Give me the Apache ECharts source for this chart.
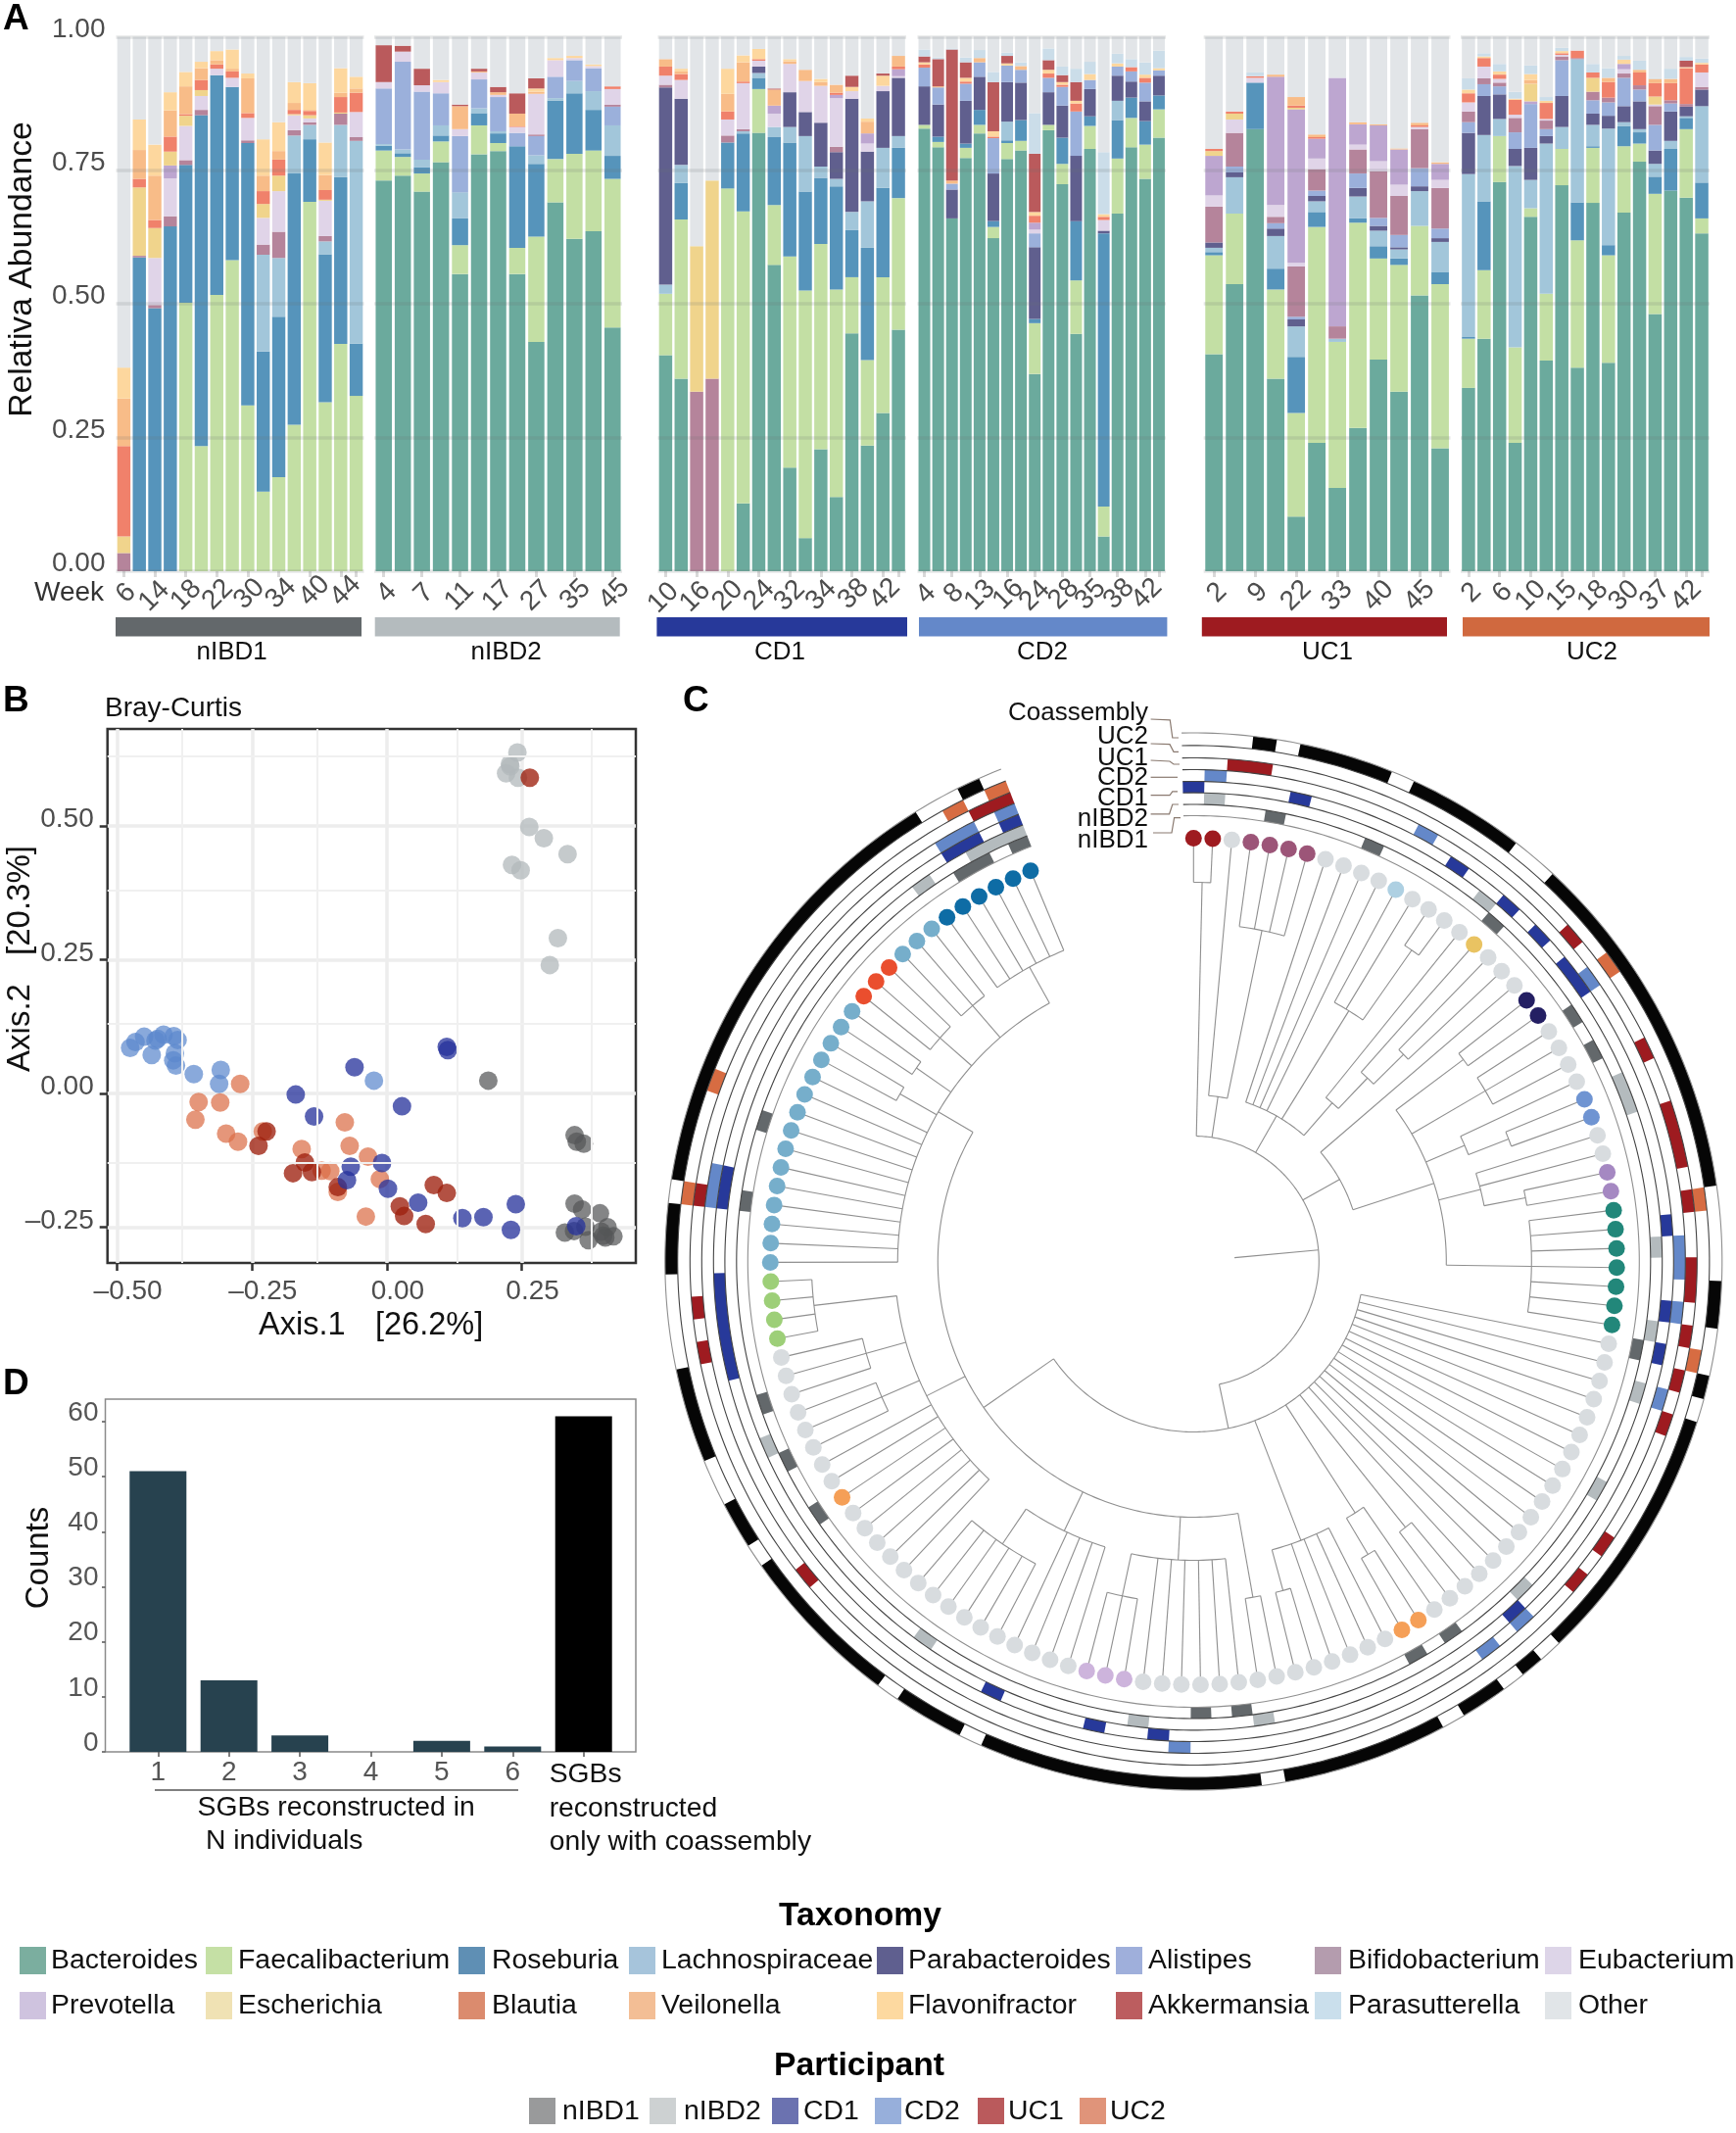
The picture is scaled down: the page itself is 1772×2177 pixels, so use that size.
<!DOCTYPE html>
<html><head><meta charset="utf-8">
<style>html,body{margin:0;padding:0;background:#fff}#c{width:1772px;height:2177px}</style>
<script src="https://cdn.jsdelivr.net/npm/echarts@6/dist/echarts.min.js"></script>
</head><body><div id="c"></div>
<script>
const FONT = "'Liberation Sans', Arial, sans-serif";
// ---------- Panel A: taxa (stack order) ----------
const taxaKeys = ['Ba','Fa','Ro','La','Pa','Al','Bi','Eu','Pr','Es','Bl','Ve','Fl','Ak','Ps','Ot'];
const taxaNames = ['Bacteroides','Faecalibacterium','Roseburia','Lachnospiraceae','Parabacteroides','Alistipes','Bifidobacterium','Eubacterium','Prevotella','Escherichia','Blautia','Veilonella','Flavonifractor','Akkermansia','Parasutterella','Other'];
const barColors = ['#6BAA9D','#C3DFA4','#5694BB','#A2C6DA','#605F8E','#9BB0DB','#B5849B','#E0D4E8','#BDA6D0','#F0D48C','#F0816B','#F8BC88','#FDD79E','#BA5A5C','#CBDDE9','#E2E5E8'];
const swatchColors = ['#7BAE9F','#C5E0A5','#5F8FB4','#A6C4DB','#5F5F8F','#9FAFDB','#B49CAE','#DDD5E8','#CFC3DF','#F0E2B4','#DB8B6E','#F3BE95','#FDD9A0','#BC5D5F','#CADFEC','#E1E5E8'];
// cumulative top of each taxon in each sample; what is left up to 1 is Other
const nIBD1 = [
{Bi:.034,Es:.065,Bl:.234,Ve:.323,Fl:.381},
{Ro:.587,Bi:.59,Es:.718,Bl:.734,Ve:.788,Fl:.845},
{Ro:.492,Bi:.498,Eu:.586,Es:.642,Bl:.657,Ve:.74,Fl:.798},
{Ro:.645,Bi:.664,Eu:.735,Pr:.759,Es:.785,Bl:.813,Ve:.862,Fl:.896},
{Fa:.502,Ro:.76,Bi:.769,Eu:.833,Es:.852,Bl:.855,Ve:.907,Fl:.934},
{Fa:.234,Ro:.853,Bi:.863,Eu:.889,Es:.9,Bl:.919,Ve:.941,Fl:.953},
{Fa:.517,Ro:.928,Eu:.94,Bl:.948,Ve:.956,Fl:.973},
{Fa:.582,Ro:.906,Eu:.923,Bl:.935,Ve:.94,Fl:.976},
{Fa:.31,Ro:.801,Bi:.806,Eu:.848,Bl:.857,Ve:.922,Fl:.931},
{Fa:.149,Ro:.411,La:.592,Bi:.611,Eu:.661,Es:.687,Bl:.711,Ve:.74,Fl:.808},
{Fa:.176,Ro:.476,La:.586,Bi:.635,Eu:.711,Es:.74,Bl:.77,Ve:.786,Fl:.84},
{Fa:.274,Ro:.744,La:.815,Bi:.825,Eu:.853,Es:.855,Bl:.863,Ve:.876,Fl:.915},
{Fa:.691,Ro:.808,La:.835,Bi:.84,Eu:.847,Es:.853,Bl:.861,Ve:.863,Fl:.913},
{Fa:.316,Ro:.593,La:.617,Bi:.627,Eu:.693,Es:.695,Bl:.713,Ve:.741,Fl:.802},
{Fa:.425,Ro:.737,La:.835,Bi:.856,Es:.858,Bl:.887,Ve:.895,Fl:.941},
{Fa:.328,Ro:.426,La:.805,Bi:.812,Eu:.859,Bl:.895,Ve:.903,Fl:.925}];
const nIBD2 = [
{Ba:.731,Fa:.787,Ro:.796,La:.799,Al:.903,Eu:.915,Ak:.984},
{Ba:.74,Fa:.775,Ro:.782,La:.789,Al:.953,Eu:.972,Ak:.983},
{Ba:.71,Fa:.744,Ro:.756,La:.77,Al:.897,Eu:.909,Ak:.94},
{Ba:.765,Fa:.804,Ro:.815,La:.834,Al:.894,Eu:.915,Fl:.919},
{Ba:.556,Fa:.61,Ro:.66,La:.709,Al:.814,Eu:.827,Ve:.87,Ak:.873},
{Ba:.78,Fa:.834,Ro:.857,La:.866,Al:.92,Eu:.933,Ve:.935,Ak:.94},
{Ba:.786,Fa:.801,Ro:.819,La:.823,Al:.887,Eu:.891,Ve:.896,Ak:.906},
{Ba:.556,Fa:.605,Ro:.795,Al:.82,Eu:.831,Bl:.832,Ve:.856,Ak:.894},
{Ba:.429,Fa:.626,Ro:.762,La:.778,Al:.814,Bi:.817,Eu:.893,Ve:.897,Fl:.903,Ak:.922},
{Ba:.69,Fa:.771,Ro:.88,La:.885,Al:.925,Eu:.956,Fl:.96},
{Ba:.622,Fa:.781,Ro:.894,La:.917,Al:.956,Eu:.96,Fl:.964},
{Ba:.636,Fa:.787,Ro:.863,La:.898,Al:.941,Eu:.945,Fl:.948},
{Ba:.456,Fa:.734,Ro:.777,La:.834,Al:.869,Bi:.873,Eu:.902,Bl:.907}];
const CD1 = [
{Ba:.404,Fa:.519,La:.536,Pa:.905,Bi:.91,Eu:.927,Bl:.944,Ve:.958},
{Ba:.36,Fa:.658,Ro:.726,La:.76,Pa:.884,Eu:.919,Bl:.93,Ve:.935,Fl:.94},
{Bi:.336,Es:.608},
{Bi:.36,Es:.731},
{Fa:.716,Ro:.802,Bi:.815,Eu:.845,Bl:.86,Ve:.893,Fl:.94},
{Ba:.127,Fa:.673,Ro:.819,La:.823,Bi:.827,Eu:.913,Bl:.916,Ve:.952,Fl:.965},
{Ba:.82,Fa:.902,Ro:.923,La:.932,Pa:.944,Eu:.955,Bl:.958,Fl:.977},
{Ba:.573,Fa:.685,Ro:.812,La:.831,Eu:.856,Pr:.871,Ve:.901,Ak:.903},
{Ba:.194,Fa:.589,Ro:.802,La:.831,Pa:.896,Eu:.949,Ve:.954,Fl:.958},
{Ba:.062,Fa:.525,Ro:.71,La:.814,Pa:.859,Eu:.917,Ve:.938},
{Ba:.228,Fa:.612,Ro:.736,La:.757,Pa:.839,Eu:.908,Ve:.915,Fl:.921},
{Ba:.139,Fa:.527,Ro:.72,La:.734,Pa:.784,Bi:.794,Eu:.885,Pr:.891,Bl:.895,Ve:.91},
{Ba:.445,Fa:.55,Ro:.638,La:.672,Pa:.884,Eu:.898,Fl:.906,Ak:.927},
{Ba:.235,Fa:.395,Ro:.605,La:.692,Pa:.785,Eu:.8,Pr:.819,Ve:.841,Fl:.847},
{Ba:.296,Fa:.55,Ro:.717,La:.792,Pa:.898,Eu:.908,Fl:.927,Ak:.931},
{Ba:.452,Fa:.698,Ro:.792,La:.814,Pa:.923,Eu:.926,Pr:.939,Bl:.944,Ve:.964}];
const CD2 = [
{Ba:.828,Fa:.835,Pa:.907,Al:.942,Bl:.948,Fl:.952,Ak:.963,Ps:.976},
{Ba:.793,Fa:.803,Ro:.813,Pa:.873,Al:.905,Ve:.907,Ak:.958,Ps:.961},
{Ba:.66,Pa:.714,Al:.725,Ve:.731,Ak:.976,Ps:.978},
{Ba:.773,Fa:.792,Ro:.8,Pa:.88,Al:.912,Bl:.916,Fl:.923,Ak:.952,Ps:.961},
{Ba:.819,Fa:.835,Ro:.863,Pa:.925,Al:.952,Ve:.96,Ps:.975},
{Ba:.623,Fa:.644,Ro:.655,Pa:.744,Al:.81,Bl:.813,Fl:.823,Ak:.915,Ps:.934},
{Ba:.771,Fa:.801,Ro:.806,La:.841,Pa:.915,Al:.946,Fl:.95,Ak:.964,Ps:.97},
{Ba:.787,Fa:.805,Ro:.844,Pa:.914,Al:.938,Ve:.945,Ps:.952},
{Ba:.369,Fa:.464,Ro:.472,Pa:.606,Al:.632,Eu:.639,Pr:.652,Bl:.665,Fl:.672,Ak:.781,Ps:.857},
{Ba:.825,Fa:.835,Pa:.896,Al:.923,Bl:.931,Fl:.938,Ak:.956,Ps:.978},
{Ba:.724,Fa:.762,Ro:.811,Pa:.871,Al:.906,Bl:.91,Fl:.915,Ak:.928,Ps:.944},
{Ba:.444,Fa:.544,Ro:.655,Pa:.777,Al:.86,Bl:.875,Fl:.88,Ak:.915,Ps:.94},
{Ba:.79,Fa:.833,Ro:.851,Pa:.902,Al:.919,Fl:.93,Ps:.953},
{Ba:.065,Fa:.121,Ro:.632,Pa:.637,Eu:.657,Bl:.663,Fl:.668,Ps:.784},
{Ba:.669,Fa:.772,Ro:.844,La:.88,Pa:.927,Al:.944,Fl:.95,Ps:.968},
{Ba:.793,Fa:.848,Ro:.886,Pa:.916,Al:.935,Bl:.943,Ps:.958},
{Ba:.734,Fa:.798,Ro:.842,Pa:.879,Al:.914,Bl:.923,Fl:.929,Ps:.952},
{Ba:.811,Fa:.864,Ro:.89,Pa:.927,Al:.937,Fl:.941,Ps:.974}];
const UC1 = [
{Ba:.406,Fa:.591,Ro:.597,La:.605,Pa:.615,Bi:.682,Eu:.703,Pr:.777,Es:.786,Bl:.79},
{Ba:.537,Fa:.669,La:.737,Pa:.746,Al:.757,Bi:.82,Eu:.845,Es:.856,Bl:.86},
{Ba:.827,Ro:.914,Eu:.923,Bl:.926,Ps:.933},
{Ba:.36,Fa:.527,Ro:.566,La:.627,Pa:.641,Al:.651,Bi:.663,Eu:.685,Pr:.925,Ve:.929},
{Ba:.102,Fa:.296,Ro:.401,La:.458,Pa:.471,Al:.476,Bi:.57,Eu:.577,Pr:.864,Es:.867,Bl:.871,Ve:.887},
{Ba:.24,Fa:.644,Ro:.672,La:.692,Pa:.702,Al:.712,Bi:.752,Eu:.772,Pr:.809,Bl:.812,Ve:.817},
{Ba:.156,Fa:.429,La:.435,Bi:.458,Pr:.923},
{Ba:.268,Fa:.652,Ro:.66,La:.701,Pa:.717,Al:.744,Bi:.789,Eu:.798,Pr:.836,Ve:.84},
{Ba:.396,Fa:.585,Ro:.608,La:.637,Pa:.646,Al:.661,Bi:.748,Eu:.767,Pr:.834,Ve:.836},
{Ba:.336,Fa:.573,Ro:.585,La:.602,Pa:.606,Al:.629,Bi:.702,Eu:.723,Pr:.789,Ve:.791},
{Ba:.516,Fa:.646,La:.711,Pa:.72,Al:.754,Bi:.827,Eu:.831,Bl:.834,Ve:.839},
{Ba:.23,Fa:.537,Ro:.56,La:.616,Pa:.623,Al:.641,Bi:.717,Eu:.732,Pr:.762,Ve:.765}];
const UC2 = [
{Ba:.343,Fa:.435,Ro:.438,La:.743,Pa:.82,Al:.84,Bi:.86,Eu:.877,Bl:.894,Fl:.901,Ps:.922},
{Ba:.435,Fa:.563,Ro:.692,La:.816,Pa:.889,Al:.911,Bi:.922,Eu:.944,Bl:.96,Fl:.963,Ps:.969},
{Ba:.728,Fa:.814,La:.846,Pa:.892,Al:.907,Bi:.914,Eu:.921,Bl:.929,Fl:.935,Ps:.949},
{Ba:.24,Fa:.419,La:.758,Pa:.79,Al:.821,Bi:.848,Eu:.854,Bl:.882,Fl:.884,Ps:.897},
{Ba:.663,Fa:.679,La:.732,Pa:.792,Al:.874,Pr:.879,Es:.912,Ve:.919,Fl:.93,Ps:.946},
{Ba:.394,Fa:.519,La:.8,Pa:.814,Al:.827,Bi:.843,Eu:.846,Bl:.876,Fl:.88,Ps:.887},
{Ba:.722,Fa:.79,La:.831,Pa:.889,Al:.956,Bi:.963,Eu:.966,Bl:.969,Fl:.973,Ps:.979},
{Ba:.381,Fa:.619,Ro:.69,La:.958,Bi:.96,Bl:.974},
{Ba:.689,Fa:.792,Ro:.795,La:.835,Pa:.856,Al:.881,Bi:.897,Es:.923,Bl:.933,Ps:.949},
{Ba:.39,Fa:.591,Ro:.61,La:.828,Pa:.852,Al:.877,Bi:.886,Bl:.915,Ve:.923,Ps:.941},
{Ba:.671,Fa:.795,Ro:.833,La:.84,Pa:.87,Al:.923,Bi:.931,Eu:.939,Pr:.949,Fl:.957,Ps:.964},
{Ba:.766,Fa:.8,Ro:.821,La:.827,Pa:.879,Al:.901,Bi:.909,Bl:.933,Ve:.938,Ps:.955},
{Ba:.481,Fa:.706,Ro:.738,La:.762,Pa:.787,Al:.835,Bi:.87,Eu:.873,Es:.888,Bl:.913,Ve:.921,Ps:.923},
{Ba:.712,Ro:.79,La:.805,Pa:.86,Al:.875,Bi:.881,Bl:.913,Ve:.921,Ps:.94},
{Ba:.699,Fa:.827,Ro:.848,La:.851,Pa:.869,Bi:.874,Bl:.941,Fl:.943,Ak:.955,Ps:.962},
{Ba:.632,Fa:.66,Ro:.727,La:.87,Pa:.901,Bi:.906,Eu:.933,Bl:.948,Fl:.951,Ps:.959}];
const facetNames = ['nIBD1','nIBD2','CD1','CD2','UC1','UC2'];
const facetData = [nIBD1,nIBD2,CD1,CD2,UC1,UC2];
const facetWeeks = [[6,14,18,22,30,34,40,44],[4,7,11,17,27,35,45],[10,16,20,24,32,34,38,42],[4,8,13,16,24,28,35,38,42],[2,9,22,33,40,45],[2,6,10,15,18,30,37,42]];
// the week labels sit a little off their ticks in the source figure
const facetWeekNudge = [[-1,-1,.7,2,3.5,4.5,10,10],[0,-1.5,-1,-.7,0,1.7,3.5],[-4.5,-2.4,0,1,0,1,3.5,4],[-2.4,-1.7,.7,2.4,0,2.8,1.7,3.4,4],[0,0,0,0,0,0],[0,0,0,0,0,0,0,0]];
const facetBox = [[118.5,253],[382,253],[671.5,253.5],[936.5,253.5],[1228.7,251.8],[1491,254]];
const bandBox = [[118,251],[382.7,250],[670.4,255.6],[938,253.4],[1226.8,250.2],[1493,252]];
const bandColors = ['#63686B','#B4BBBE','#27399A','#6488C9','#9E1B20','#D0693F'];
const bandLabelX = [236.7,516.6,796,1064,1355,1625];

// ---------- Panel B: ordination points [Axis.1, Axis.2] ----------
const pNIBD1 = [[.188,.024],[.348,-.078],[.352,-.09],[.365,-.094],[.348,-.206],[.362,-.217],[.395,-.224],[.368,-.249],[.33,-.26],[.347,-.257],[.374,-.274],[.409,-.25],[.397,-.258],[.401,-.266],[.405,-.269],[.42,-.267]];
const pNIBD2 = [[.242,.637],[.228,.615],[.229,.611],[.221,.598],[.243,.59],[.264,.498],[.291,.477],[.335,.447],[.232,.427],[.248,.417],[.317,.29],[.302,.24]];
const pCD1 = [[.111,.087],[.113,.081],[-.06,.049],[-.169,-.002],[.028,-.024],[-.135,-.043],[-.009,-.13],[-.067,-.137],[-.074,-.162],[.002,-.178],[.058,-.204],[.14,-.233],[.179,-.231],[.239,-.207],[.23,-.255],[.351,-.248]];
const pCD2 = [[-.476,.085],[-.466,.096],[-.45,.106],[-.425,.102],[-.414,.11],[-.395,.107],[-.388,.1],[-.429,.099],[-.436,.072],[-.393,.075],[-.396,.062],[-.391,.052],[-.358,.036],[-.308,.044],[-.311,.018],[-.024,.024]];
const pUC1 = [[.265,.59],[-.223,-.071],[-.238,-.098],[-.152,-.129],[-.174,-.149],[-.139,-.147],[-.091,-.175],[.087,-.171],[.111,-.186],[.024,-.211],[.032,-.229],[.072,-.244]];
const pUC2 = [[-.272,.018],[-.349,-.016],[-.309,-.017],[-.355,-.049],[-.298,-.075],[-.276,-.09],[-.23,-.071],[-.078,-.054],[-.158,-.104],[-.069,-.098],[-.035,-.118],[-.013,-.16],[-.121,-.144],[-.105,-.145],[-.091,-.184],[-.039,-.23]];
const pointSets = [pNIBD2,pNIBD1,pCD2,pUC2,pUC1,pCD1];
const pointColors = ['rgba(178,184,187,.75)','rgba(84,86,88,.72)','rgba(92,136,205,.72)','rgba(219,110,70,.72)','rgba(158,32,14,.78)','rgba(38,50,155,.76)'];
const bTicks = [-.5,-.25,0,.25], bTicksY = [-.25,0,.25,.5];
const bMinorX = [-.375,-.125,.125,.375], bMinorY = [-.125,.125,.375,.625];

// ---------- Panel C: tree and rings ----------
const leafColorRuns = [['#9E1B20',2],['#D8DCDF',1],['#9C5578',4],['#D8DCDF',4],['#AED0E2',1],['#D8DCDF',4],['#E9C362',1],['#D8DCDF',3],['#241F63',2],['#D8DCDF',4],['#6F94D2',2],['#D8DCDF',2],['#A588C2',2],['#22877A',7],['#D8DCDF',18],['#F59F57',2],['#D8DCDF',14],['#CDB4DC',3],['#D8DCDF',15],['#F59F57',1],['#D8DCDF',8],['#9DCF78',4],['#76AECB',15],['#EA4E2E',3],['#76AECB',3],['#0E6CA5',6]];
const leafRadius = 432, leafCount = 131, leafStepDeg = 2.595;
// node = [radius, ...children]; a plain number is a leaf index
const treeRootStemFrom = 42;
const tree = [128,
 [387,0,1],
 [170,2,[345,3,4,5,6]],
 [171,7,8,9,10,[301,11,12,[388,13,14]],[215,15,[258,16,[301,17,18]]]],
 [171,19,[258,[344,20,21],[345,22,23,24],[301,25,[345,26,27]],[302,28,29,[345,30,31]],[345,32,33,34,35,36,37,38]]],
 [174,39,40,41,42,43,44,45,46,47,48,49,50,51,52,53,[347,54,55],[305,56,[348,57,58]],[305,59,60,61,62,[348,63,64]],
  [261,[348,65,66],
   [305,67,68,69,70,71,72,[349,73,74,75]],
   [305,76,77,78,79,[348,80,81,82,83,84,85]],
   [305,86,87,88,89,90,91,92,93,[347,94,95,96],[347,97,98,99],[390,100,101,102,103]],
   [302,104,105,106,107,108,109,110,111,112,113,114,[345,115,116],[345,117,118],[345,119,120,121],[345,122,123,124],[344,125,126,127,128,129,130]]]]];
const ringEdges = [455,466.5,478.4,490,502,514,526.6,539.5];
const ringColors = ['#63686B','#B4BBBE','#27399A','#6488C9','#9E1B20','#D76C42','#060606'];
const ringNames = ['nIBD1','nIBD2','CD1','CD2','UC1','UC2','Coassembly'];
const cellsNIBD1 = [4,9,16,22,24,39,56,58,67,69,91,94,97,107,111,127,128,130];
const cellsNIBD2 = [1,15,26,27,34,38,41,46,52,66,72,83,95,125,128,129,130];
const cellsCD1 = [0,5,13,16,18,20,21,33,37,39,53,71,74,79,99,100,101,102,103,107,108,127,128,130];
const cellsCD2 = [1,11,21,34,35,37,41,53,55,70,107,108,127,128,130];
const cellsUC1 = [2,3,19,25,28,29,30,32,35,36,38,40,42,48,50,89,100,102,107,129,130];
const cellsUC2 = [21,32,39,107,112,128,130];
const cellsCoassembly = [3,5,6,7,8,10,11,12,13,14,17,18,19,20,21,22,23,24,25,26,27,28,29,30,31,36,37,40,42,43,44,45,46,47,48,49,50,51,52,54,56,57,59,60,61,62,63,64,65,67,68,69,70,71,72,73,74,75,76,77,78,80,81,82,84,85,86,87,88,89,90,92,93,96,97,98,99,104,105,106,108,109,110,111,112,113,114,115,116,117,118,119,120,121,122,123,124,125,126,129];
const ringCells = [cellsNIBD1,cellsNIBD2,cellsCD1,cellsCD2,cellsUC1,cellsUC2,cellsCoassembly];
const ringLabelY = [857.5,836,815,793.5,773.5,751.5,727.5];
const ringLeaders = [
 [[1177,850],[1196,850],[1198.6,834.7],[1205,834.7]],
 [[1174.6,830.8],[1193.6,830.8],[1196.8,821],[1203,821]],
 [[1174.6,811.7],[1194,811.7],[1196.8,807.9],[1202,807.9]],
 [[1174.6,793.3],[1202,793.3]],
 [[1174.6,776],[1194,777],[1198,780],[1204,780]],
 [[1174.6,759],[1194,759.7],[1198,767.3],[1203,767.3]],
 [[1174.6,734],[1194.3,734.8],[1196.8,753],[1203,753]]];

// ---------- Panel D ----------
const dPositions = [1,2,3,4,5,6,7];
const dCounts = [51,13,3,0,2,1,61];
const dColors = ['#27424F','#27424F','#27424F','#27424F','#27424F','#27424F','#000000'];
const dTicksY = [0,10,20,30,40,50,60];

// ---------- Build ----------
const grid=[],xAxis=[],yAxis=[],series=[],gfx=[];
function T(text,x,y,size,opt){opt=opt||{};gfx.push({type:'text',silent:true,z:50,x:x,y:y,rotation:opt.rot||0,
 style:{text:text,x:0,y:0,font:(opt.bold?'bold ':'')+size+'px '+FONT,fill:opt.fill||'#111',textAlign:opt.align||'left',textVerticalAlign:'middle'}});}
function R(x,y,w,h,fill){gfx.push({type:'rect',silent:true,z:40,shape:{x:x,y:y,width:w,height:h},style:{fill:fill}});}
function L(points,stroke,w){gfx.push({type:'polyline',silent:true,z:40,shape:{points:points},style:{stroke:stroke,lineWidth:w,fill:null}});}
// padding of a 45-degree label that moves its centre by (dx,dy) on screen
function nudgePadding(dx,dy){
  const h=(dx-dy)/.707, v=(dx+dy)/.707;
  return [Math.max(v,0),Math.max(-h,0),Math.max(-v,0),Math.max(h,0)];
}

const A_TOP=37.4,A_BOTTOM=583;
facetData.forEach((bars,f)=>{
  grid.push({left:facetBox[f][0],width:facetBox[f][1],top:A_TOP,height:A_BOTTOM-A_TOP,containLabel:false});
  xAxis.push({gridIndex:f,type:'category',
    data:bars.map((_,i)=>{
      if(i%2!==0)return '';
      const w=String(facetWeeks[f][i/2]);
      return {value:w,textStyle:{align:'center',verticalAlign:'middle',padding:nudgePadding(facetWeekNudge[f][i/2],w.length===1?-6:0)}};
    }),
    axisLine:{show:false},axisTick:{show:true,interval:1,alignWithLabel:true,length:6,lineStyle:{color:'#d9d9d9',width:3}},
    axisLabel:{interval:0,rotate:45,align:'center',verticalAlign:'middle',margin:25,fontSize:28,color:'#4d4d4d',fontFamily:FONT},splitLine:{show:false}});
  yAxis.push({gridIndex:f,type:'value',min:0,max:1,interval:.25,z:6,axisLine:{show:false},axisTick:{show:false},
    axisLabel:{show:f===0,margin:11,fontSize:28,color:'#4d4d4d',fontFamily:FONT,verticalAlign:'bottom',lineHeight:15,formatter:v=>v.toFixed(2)},
    splitLine:{show:true,lineStyle:{color:'rgba(105,110,115,.17)',width:3.5}}});
  taxaKeys.forEach((k,ti)=>{
    const vals=bars.map(b=>{
      let prev=0,top=null;
      for(let j=0;j<ti;j++){if(b[taxaKeys[j]]!=null)prev=b[taxaKeys[j]];}
      if(k==='Ot')return +(1-prev).toFixed(3);
      top=b[k];return top==null?0:+(top-prev).toFixed(3);
    });
    series.push({type:'bar',name:taxaNames[ti],xAxisIndex:f,yAxisIndex:f,stack:'f'+f,barWidth:'85%',silent:true,z:2,
      itemStyle:{color:barColors[ti]},data:vals});
  });
  R(bandBox[f][0],630,bandBox[f][1],19.5,bandColors[f]);
  T(facetNames[f],bandLabelX[f],666,26,{align:'center'});
});
T('A',3,20,37,{bold:true,fill:'#000'});
T('Week',35,605,28,{fill:'#333'});
T('Relativa Abundance',23,275,33.7,{rot:Math.PI/2,align:'center',fill:'#111'});

// Panel B
const gB=grid.length;
grid.push({left:109.7,top:744,width:539.3,height:545,show:true,borderColor:'#333',borderWidth:2.5,backgroundColor:'#fff'});
const minus=v=>(v<0?'\u2013':'')+Math.abs(v).toFixed(2);
xAxis.push({gridIndex:gB,type:'value',min:-.518,max:.4615,axisLine:{show:false,onZero:false},
  axisTick:{show:true,customValues:bTicks,length:8,lineStyle:{color:'#333',width:2.5}},
  axisLabel:{customValues:bTicks,formatter:minus,margin:15,fontSize:28,color:'#4d4d4d',fontFamily:FONT,padding:[0,0,0,22]},
  splitLine:{show:true,lineStyle:{color:'#ededed',width:3.5}}});
yAxis.push({gridIndex:gB,type:'value',min:-.3167,max:.681,axisLine:{show:false,onZero:false},
  axisTick:{show:true,customValues:bTicksY,length:8,lineStyle:{color:'#333',width:2.5}},
  axisLabel:{customValues:bTicksY,formatter:minus,margin:14,fontSize:28,color:'#4d4d4d',fontFamily:FONT,verticalAlign:'bottom',lineHeight:12.5},
  splitLine:{show:true,lineStyle:{color:'#ededed',width:3.5}}});
series.push({type:'scatter',xAxisIndex:gB,yAxisIndex:gB,data:[],silent:true,z:1,
  markLine:{silent:true,symbol:'none',animation:false,label:{show:false},lineStyle:{color:'#f0f0f0',width:2,type:'solid'},
    data:bMinorX.map(v=>({xAxis:v})).concat(bMinorY.map(v=>({yAxis:v})))}});
pointSets.forEach((pts,i)=>series.push({type:'scatter',xAxisIndex:gB,yAxisIndex:gB,data:pts,symbolSize:19,silent:true,z:3,
  itemStyle:{color:pointColors[i],borderWidth:0,opacity:1}}));
T('B',3,716,37,{bold:true,fill:'#000'});
T('Bray-Curtis',107,723.5,28);
T('Axis.1',264,1353,32.5);
T('[26.2%]',383,1353,32.5);
T('Axis.2',21,1049,33,{rot:Math.PI/2,align:'center'});
T('[20.3%]',21,919,33,{rot:Math.PI/2,align:'center'});

// Panel D
const gD=grid.length;
grid.push({left:107.5,top:1428,width:541.5,height:360,show:true,borderColor:'#8a8a8a',borderWidth:1.5,backgroundColor:'#fff'});
xAxis.push({gridIndex:gD,type:'value',min:.257,max:7.736,axisLine:{show:false,onZero:false},splitLine:{show:false},
  axisTick:{show:true,customValues:dPositions,length:5,lineStyle:{color:'#555',width:1.5}},
  axisLabel:{customValues:dPositions.slice(0,6),formatter:v=>String(v),margin:7,fontSize:28,color:'#555',fontFamily:FONT}});
yAxis.push({gridIndex:gD,type:'value',min:0,max:64.1,axisLine:{show:false,onZero:false},splitLine:{show:false},
  axisTick:{show:true,customValues:dTicksY,length:3.5,lineStyle:{color:'#555',width:1.5}},
  axisLabel:{customValues:dTicksY,formatter:v=>String(v),margin:7,fontSize:28,color:'#555',fontFamily:FONT,verticalAlign:'bottom',lineHeight:18}});
series.push({type:'bar',xAxisIndex:gD,yAxisIndex:gD,barWidth:58,silent:true,
  data:dPositions.map((p,i)=>({value:[p,dCounts[i]],itemStyle:{color:dColors[i]}}))});
T('D',3,1413,37,{bold:true,fill:'#000'});
T('Counts',40,1590,33,{rot:Math.PI/2,align:'center'});
L([[158,1827],[529,1827]],'#555',1.6);
T('SGBs reconstructed in',201.6,1845,28.3);
T('N individuals',210,1879,28.3);
T('SGBs',560.7,1811,28.3);
T('reconstructed',560.7,1846,28.3);
T('only with coassembly',560.7,1880,28.3);

// Panel C
const stepUnitsFull = 360/leafStepDeg;
const edges=[];
function walk(node,parentR){
  if(typeof node==='number'){ edges.push([parentR,leafRadius,node,node]); return node; }
  const r=node[0], ts=node.slice(1).map(c=>walk(c,r));
  const lo=Math.min(...ts),hi=Math.max(...ts),mid=(ts[0]+ts[ts.length-1])/2;
  edges.push([r,r,lo,hi]);
  edges.push([parentR,r,mid,mid]);
  return mid;
}
walk(tree,treeRootStemFrom);
const ringLines=ringEdges.map(r=>[r,r,-.5,leafCount-.5]);
// neighbouring cells of a ring are joined into one run: [row, first, last]
const cellData=[];
ringCells.forEach((cells,row)=>{
  let first=cells[0],last=cells[0];
  cells.slice(1).concat([null]).forEach(c=>{
    if(c===last+1){last=c;}else{cellData.push([row,first,last]);first=c;last=c;}
  });
});
const leafColors=[];leafColorRuns.forEach(([c,n])=>{for(let i=0;i<n;i++)leafColors.push(c);});
const leafData=leafColors.map((c,i)=>({value:[leafRadius,i],itemStyle:{color:c,opacity:1}}));
function curveItem(color,width){return function(params,api){
  const r0=api.value(0),r1=api.value(1),t0=api.value(2),t1=api.value(3);
  const n=t0===t1?1:Math.max(2,Math.ceil(Math.abs(t1-t0)*3));
  const pts=[];for(let i=0;i<=n;i++){pts.push(api.coord([r0+(r1-r0)*i/n,t0+(t1-t0)*i/n]));}
  return {type:'polyline',silent:true,shape:{points:pts},style:{stroke:typeof color==='function'?color(r0):color,lineWidth:width,fill:null}};
};}
function cellItem(params,api){
  const row=api.value(0),a=api.value(1)-.5,b=api.value(2)+.5,r0=ringEdges[row],r1=ringEdges[row+1],pts=[];
  const n=Math.ceil((b-a)*4);
  for(let i=0;i<=n;i++)pts.push(api.coord([r0,a+(b-a)*i/n]));
  for(let i=n;i>=0;i--)pts.push(api.coord([r1,a+(b-a)*i/n]));
  return {type:'polygon',silent:true,shape:{points:pts},style:{fill:ringColors[row]}};
}
const polar={center:[1218.3,1287.5],radius:540};
const angleAxis={type:'value',min:0,max:stepUnitsFull,startAngle:90,clockwise:true,show:false};
const radiusAxis={type:'value',min:0,max:540,show:false};
series.push({type:'custom',coordinateSystem:'polar',silent:true,z:3,renderItem:curveItem('#8f8f8f',1.1),encode:{radius:0,angle:2},data:edges,clip:false});
series.push({type:'custom',coordinateSystem:'polar',silent:true,z:3,renderItem:cellItem,encode:{radius:0,angle:1},data:cellData,clip:false});
series.push({type:'custom',coordinateSystem:'polar',silent:true,z:4,renderItem:curveItem(r=>(r===ringEdges[0]||r===ringEdges[7])?'#8f8f8f':'#444',1.1),encode:{radius:0,angle:2},data:ringLines,clip:false});
series.push({type:'scatter',coordinateSystem:'polar',silent:true,z:5,symbolSize:17,data:leafData,clip:false});
T('C',697,716,37,{bold:true,fill:'#000'});
ringNames.forEach((n,i)=>{T(n,1172,ringLabelY[i],26,{align:'right'});L(ringLeaders[i],'#8a7a70',1.2);});

// Legends
const legendX=[20,210,468,642,895,1139,1342,1577], legendTextX=[52,243,502,675,927,1172,1376,1611], legendRowY=[2001,2047];
T('Taxonomy',878,1956,33.7,{bold:true,align:'center',fill:'#000'});
taxaNames.forEach((n,i)=>{const c=i%8,row=i<8?0:1;
  R(legendX[c],legendRowY[row]-14,27,28,swatchColors[i]);
  T(n,legendTextX[c],legendRowY[row],28.4);});
T('Participant',877,2108.5,33.7,{bold:true,align:'center',fill:'#000'});
const partNames=['nIBD1','nIBD2','CD1','CD2','UC1','UC2'];
const partSwatch=['#999A9B','#CDD1D2','#6B72B0','#97AFDB','#BA5A5C','#E0947A'];
const partX=[540,663,788,893,998,1102], partTextX=[574,698,820,923,1029,1133];
partNames.forEach((n,i)=>{R(partX[i],2141,27,27,partSwatch[i]);T(n,partTextX[i],2155,28.4);});

const chart=echarts.init(document.getElementById('c'),null,{renderer:'canvas'});
chart.setOption({animation:false,backgroundColor:'#fff',textStyle:{fontFamily:FONT},tooltip:{show:false},
  grid,xAxis,yAxis,polar,angleAxis,radiusAxis,series,graphic:gfx});
</script></body></html>
